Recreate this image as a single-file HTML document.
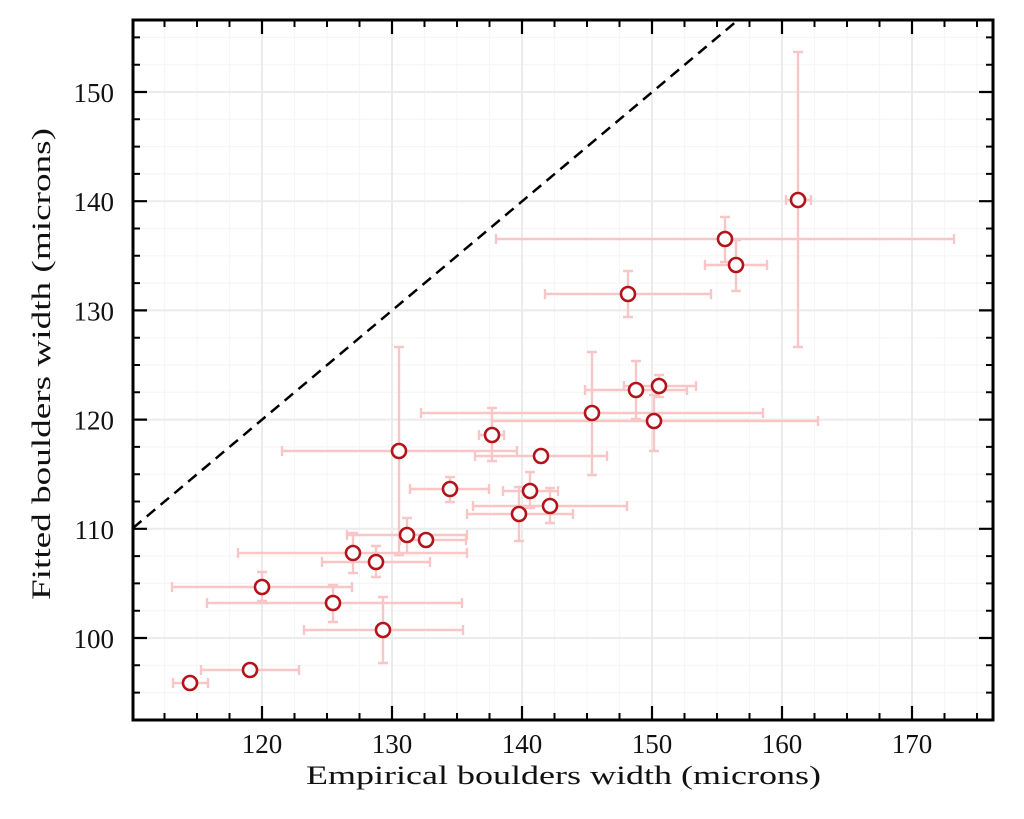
<!DOCTYPE html>
<html>
<head>
<meta charset="utf-8">
<style>
html,body{margin:0;padding:0;background:#fff;}
svg{display:block;}
text{font-family:"Liberation Serif","DejaVu Serif",serif;fill:#111;}
</style>
</head>
<body>
<svg width="1024" height="819" viewBox="0 0 1024 819" xmlns="http://www.w3.org/2000/svg">
<rect x="0" y="0" width="1024" height="819" fill="#fff"/>
<!-- minor grid -->
<path fill="none" stroke="#f6f6f6" stroke-width="1.2" d="
M164.5 20V720M197 20V720M229.5 20V720M294.5 20V720M327 20V720M359.5 20V720M424.5 20V720M457 20V720M489.5 20V720M554.5 20V720M587 20V720M619.5 20V720M684.5 20V720M717 20V720M749.5 20V720M814.5 20V720M847 20V720M879.5 20V720M944.5 20V720M977 20V720
M133 692.6H993M133 665.3H993M133 610.7H993M133 583.4H993M133 556.1H993M133 501.5H993M133 474.2H993M133 446.9H993M133 392.3H993M133 365H993M133 337.7H993M133 283.1H993M133 255.8H993M133 228.5H993M133 173.9H993M133 146.6H993M133 119.3H993M133 64.7H993M133 37.4H993"/>
<!-- major grid -->
<path fill="none" stroke="#ebebeb" stroke-width="2" d="
M262 20V720M392 20V720M522 20V720M652 20V720M782 20V720M912 20V720
M133 638H993M133 528.8H993M133 419.6H993M133 310.4H993M133 201.2H993M133 92H993"/>
<!-- y = x dashed line -->
<line x1="133" y1="528" x2="738" y2="20" stroke="#000" stroke-width="2.5" stroke-dasharray="11,7"/>
<!-- error bars -->
<path fill="none" stroke="#f8c6c6" stroke-width="2.4" d="
M173 683H208M173 678V688M208 678V688
M201 670H299M201 665V675M299 665V675
M172 587H352M172 582V592M352 582V592M262 572V601M257 572H267M257 601H267
M207 603H462M207 598V608M462 598V608M333 585V622M328 585H338M328 622H338
M304 630H463M304 625V635M463 625V635M383 597V663M378 597H388M378 663H388
M238 553H467M238 548V558M467 548V558M353 533V573M348 533H358M348 573H358
M322 562H430M322 557V567M430 557V567M376 546V577M371 546H381M371 577H381
M347 535H467M347 530V540M467 530V540M407 518V553M402 518H412M402 553H412
M400 540H466M400 535V545M466 535V545
M282 451H517M282 446V456M517 446V456M399 347V555M394 347H404M394 555H404
M410 489H489M410 484V494M489 484V494M450 477V502M445 477H455M445 502H455
M479 435H504M479 430V440M504 430V440M492 408V461M487 408H497M487 461H497
M503 491H558M503 486V496M558 486V496M530 472V508M525 472H535M525 508H535
M475 456H607M475 451V461M607 451V461
M473 506H627M473 501V511M627 501V511M550 488V523M545 488H555M545 523H555
M467 514H573M467 509V519M573 509V519M519 487V541M514 487H524M514 541H524
M421 413H763M421 408V418M763 408V418M592 352V475M587 352H597M587 475H597
M492 421H818M492 416V426M818 416V426M654 395V451M649 395H659M649 451H659
M585 390H687M585 385V395M687 385V395M636 361V419M631 361H641M631 419H641
M624 386H696M624 381V391M696 381V391M659 375V397M654 375H664M654 397H664
M545 294H711M545 289V299M711 289V299M628 271V317M623 271H633M623 317H633
M705 265H767M705 260V270M767 260V270M736 240V291M731 240H741M731 291H741
M496 239H954M496 234V244M954 234V244M725 217V262M720 217H730M720 262H730
M786 200H811M786 195V205M811 195V205M798 52V347M793 52H803M793 347H803"/>
<!-- markers -->
<g fill="#fff" stroke="#b3141b" stroke-width="2.6">
<circle cx="190" cy="683" r="7"/>
<circle cx="250" cy="670" r="7"/>
<circle cx="262" cy="587" r="7"/>
<circle cx="333" cy="603" r="7"/>
<circle cx="383" cy="630" r="7"/>
<circle cx="353" cy="553" r="7"/>
<circle cx="376" cy="562" r="7"/>
<circle cx="407" cy="535" r="7"/>
<circle cx="426" cy="540" r="7"/>
<circle cx="399" cy="451" r="7"/>
<circle cx="450" cy="489" r="7"/>
<circle cx="492" cy="435" r="7"/>
<circle cx="530" cy="491" r="7"/>
<circle cx="541" cy="456" r="7"/>
<circle cx="550" cy="506" r="7"/>
<circle cx="519" cy="514" r="7"/>
<circle cx="592" cy="413" r="7"/>
<circle cx="654" cy="421" r="7"/>
<circle cx="636" cy="390" r="7"/>
<circle cx="659" cy="386" r="7"/>
<circle cx="628" cy="294" r="7"/>
<circle cx="736" cy="265" r="7"/>
<circle cx="725" cy="239" r="7"/>
<circle cx="798" cy="200" r="7"/>
</g>
<!-- ticks -->
<path fill="none" stroke="#000" stroke-width="2.2" d="
M262 720v-14M392 720v-14M522 720v-14M652 720v-14M782 720v-14M912 720v-14
M262 20v14M392 20v14M522 20v14M652 20v14M782 20v14M912 20v14
M133 638h14M133 528.8h14M133 419.6h14M133 310.4h14M133 201.2h14M133 92h14
M993 638h-14M993 528.8h-14M993 419.6h-14M993 310.4h-14M993 201.2h-14M993 92h-14"/>
<path fill="none" stroke="#000" stroke-width="2" d="
M164.5 720v-7M197 720v-7M229.5 720v-7M294.5 720v-7M327 720v-7M359.5 720v-7M424.5 720v-7M457 720v-7M489.5 720v-7M554.5 720v-7M587 720v-7M619.5 720v-7M684.5 720v-7M717 720v-7M749.5 720v-7M814.5 720v-7M847 720v-7M879.5 720v-7M944.5 720v-7M977 720v-7
M164.5 20v7M197 20v7M229.5 20v7M294.5 20v7M327 20v7M359.5 20v7M424.5 20v7M457 20v7M489.5 20v7M554.5 20v7M587 20v7M619.5 20v7M684.5 20v7M717 20v7M749.5 20v7M814.5 20v7M847 20v7M879.5 20v7M944.5 20v7M977 20v7
M133 692.6h7M133 665.3h7M133 610.7h7M133 583.4h7M133 556.1h7M133 501.5h7M133 474.2h7M133 446.9h7M133 392.3h7M133 365h7M133 337.7h7M133 283.1h7M133 255.8h7M133 228.5h7M133 173.9h7M133 146.6h7M133 119.3h7M133 64.7h7M133 37.4h7
M993 692.6h-7M993 665.3h-7M993 610.7h-7M993 583.4h-7M993 556.1h-7M993 501.5h-7M993 474.2h-7M993 446.9h-7M993 392.3h-7M993 365h-7M993 337.7h-7M993 283.1h-7M993 255.8h-7M993 228.5h-7M993 173.9h-7M993 146.6h-7M993 119.3h-7M993 64.7h-7M993 37.4h-7"/>
<!-- spines -->
<rect x="133" y="20" width="860" height="700" fill="none" stroke="#000" stroke-width="3"/>
<!-- x tick labels -->
<g font-size="27" text-anchor="middle">
<text x="262" y="753">120</text>
<text x="392" y="753">130</text>
<text x="522" y="753">140</text>
<text x="652" y="753">150</text>
<text x="782" y="753">160</text>
<text x="912" y="753">170</text>
</g>
<!-- y tick labels -->
<g font-size="27" text-anchor="end">
<text x="114" y="648">100</text>
<text x="114" y="538.8">110</text>
<text x="114" y="429.6">120</text>
<text x="114" y="320.4">130</text>
<text x="114" y="211.2">140</text>
<text x="114" y="102">150</text>
</g>
<!-- axis labels -->
<text x="306" y="784" font-size="26" textLength="515" lengthAdjust="spacingAndGlyphs">Empirical boulders width (microns)</text>
<text transform="translate(50,600) rotate(-90)" x="0" y="0" font-size="26" textLength="472" lengthAdjust="spacingAndGlyphs">Fitted boulders width (microns)</text>
</svg>
</body>
</html>
